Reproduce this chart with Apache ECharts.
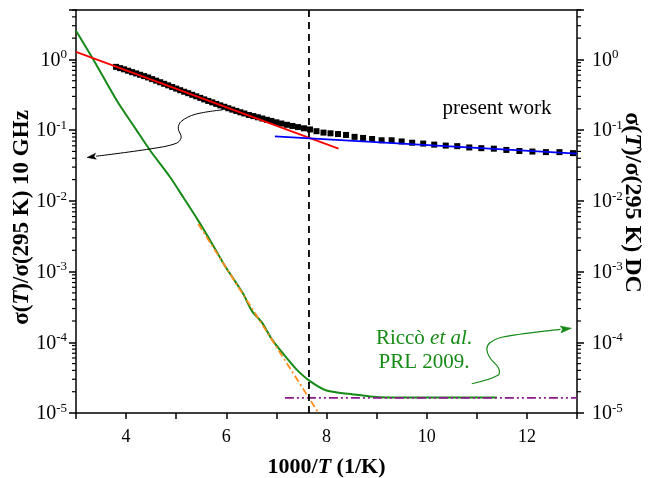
<!DOCTYPE html>
<html><head><meta charset="utf-8">
<script src="https://cdn.jsdelivr.net/npm/echarts@6.0.0/dist/echarts.min.js"></script>
<style>html,body{margin:0;padding:0;background:#fff}#c{width:654px;height:478px}</style>
</head><body><div id="c"></div>
<script>
// ---- data (x = 1000/T in 1/K, y = normalised conductivity) ----
const presentX = [3.80,3.88,3.96,4.04,4.12,4.20,4.28,4.36,4.44,4.52,4.60,4.68,4.76,4.84,4.92,5.00,
  5.08,5.16,5.24,5.32,5.40,5.48,5.56,5.64,5.72,5.80,5.88,5.96,6.04,6.12,6.20,6.28,6.36,
  6.45,6.54,6.63,6.72,6.81,6.90,7.00,7.10,7.21,7.32,7.43,7.55,7.67,
  7.80,7.94,8.08,8.23,8.39,8.56,8.73,8.91,9.10,9.30,9.50,9.71,9.93,
  10.15,10.38,10.61,10.85,11.09,11.34,11.59,11.85,12.11,12.38,12.65,12.92];
const presentY = [0.785,0.753,0.724,0.692,0.661,0.634,0.607,0.581,0.556,0.527,0.501,0.476,0.452,0.430,0.407,0.387,
  0.367,0.349,0.333,0.316,0.301,0.286,0.272,0.259,0.247,0.235,0.224,0.214,0.204,0.195,0.187,0.179,0.172,
  0.164,0.158,0.152,0.146,0.140,0.135,0.129,0.124,0.119,0.1146,0.1104,0.1062,0.1023,
  0.0966,0.0923,0.0902,0.0881,0.0855,0.0804,0.0776,0.0750,0.0719,0.0719,0.0692,0.0664,0.0646,
  0.0624,0.0605,0.0594,0.0569,0.0556,0.0547,0.0525,0.0507,0.0498,0.0489,0.0489,0.0473];

const riccoX = [3.0,3.345,3.81,4.21,4.48,4.88,5.14,5.44,5.74,5.97,6.17,6.34,6.51,6.71,6.91,7.20,7.40,7.67,8.0,8.53,9.07,10.0,11.4];
const riccoY = [2.55,1.0,0.265,0.0993,0.0516,0.0216,0.01125,0.00525,0.00232,0.00121,0.000741,0.00048,0.000278,0.000191,0.00011,6.05e-5,4.14e-5,2.82e-5,2.08e-5,1.83e-5,1.67e-5,1.65e-5,1.66e-5];

const redFitX = [3.0, 8.24];     const redFitY = [1.28, 0.0547];
const blueFitX = [6.97, 13.0];   const blueFitY = [0.0817, 0.0464];
const orangeFitX = [5.44, 7.84]; const orangeFitY = [0.00472, 1.0e-5];
const purpleFitX = [7.17, 13.0]; const purpleFitY = [1.64e-5, 1.64e-5];
const crossoverX = [7.65, 7.65]; const crossoverY = [1e-5, 5];

// annotation arrows (data coordinates)
const arrowPresent = [[5.93,0.194],[5.38,0.1675],[5.10,0.133],[5.04,0.106],[5.10,0.079],[5.0,0.065],[4.48,0.0543],[3.22,0.0411]];
const arrowRicco = [[10.90,2.59e-5],[11.43,3.44e-5],[11.43,4.37e-5],[11.26,6.05e-5],[11.20,7.96e-5],[11.26,9.86e-5],[11.46,1.16e-4],[11.86,1.30e-4],[12.40,1.45e-4],[12.89,1.58e-4]];

const xMin = 3, xMax = 13, yMin = 1e-5, yMax = 5;
const xTickLabels = [4,6,8,10,12];

const zip = (a,b) => a.map((v,i)=>[v,b[i]]);
const FONT = 'Liberation Serif';
const GREEN = '#168a16';

const chart = echarts.init(document.getElementById('c'), null, {renderer:'canvas'});

function logLabel(v){
  const l = Math.log10(v), e = Math.round(l);
  if (Math.abs(l - e) > 1e-6) return '';
  return '{b|10}{s|' + e + '}';
}
const labelRich = {
  b: {fontSize: 20, fontFamily: FONT, color: '#000', lineHeight: 22, verticalAlign: 'bottom'},
  s: {fontSize: 13, fontFamily: FONT, color: '#000', verticalAlign: 'top', lineHeight: 13}
};
function nameStyle(size, pad){
  return {fontFamily: FONT, fontSize: size, fontWeight: 'bold', color: '#000', padding: pad,
    rich: {i: {fontFamily: FONT, fontSize: size, fontWeight: 'bold', fontStyle: 'italic', color: '#000'}}};
}

const axisLine = {show: true, onZero: false, lineStyle: {color: '#000', width: 1.5}};

chart.setOption({
  animation: false,
  backgroundColor: '#fff',
  grid: {left: 76, right: 77, top: 10, bottom: 65, containLabel: false, outerBoundsMode: 'none'},
  xAxis: [{
    type: 'value', min: xMin, max: xMax, interval: 1, position: 'bottom',
    axisLine: axisLine,
    axisTick: {show: true, length: 6, inside: false, lineStyle: {color: '#000', width: 1.5}},
    splitLine: {show: false},
    axisLabel: {fontFamily: FONT, fontSize: 18, color: '#000', margin: 15,
      formatter: v => xTickLabels.includes(v) ? String(v) : ''},
    name: '1000/{i|T} (1/K)', nameLocation: 'middle', nameGap: 43, nameMoveOverlap: false,
    nameTextStyle: nameStyle(22, 0)
  }, {
    type: 'value', min: xMin, max: xMax, position: 'top',
    axisLine: axisLine, axisTick: {show: false}, axisLabel: {show: false}, splitLine: {show: false}
  }],
  yAxis: [{
    type: 'log', logBase: 10, min: yMin, max: yMax, position: 'left',
    axisLine: axisLine,
    axisTick: {show: true, length: 7, lineStyle: {color: '#000', width: 1.5}},
    splitLine: {show: false},
    axisLabel: {margin: 9, formatter: logLabel, rich: labelRich},
    name: 'σ({i|T})/σ(295 K) 10 GHz', nameLocation: 'middle', nameGap: 42, nameRotate: 90, nameMoveOverlap: false,
    nameTextStyle: nameStyle(23, [0, 12, 0, 0])
  }, {
    type: 'log', logBase: 10, min: yMin, max: yMax, position: 'right',
    axisLine: axisLine,
    axisTick: {show: true, length: 7, lineStyle: {color: '#000', width: 1.5}},
    splitLine: {show: false},
    axisLabel: {margin: 15, formatter: logLabel, rich: labelRich},
    name: 'σ({i|T})/σ(295 K) DC', nameLocation: 'middle', nameGap: 43, nameRotate: -90, nameMoveOverlap: false,
    nameTextStyle: nameStyle(24, [0, 18, 0, 0])
  }],
  series: [
    {type: 'line', data: zip(riccoX, riccoY), smooth: 0.25, showSymbol: false,
      lineStyle: {color: GREEN, width: 2}, z: 2},
    {type: 'line', data: zip(orangeFitX, orangeFitY), showSymbol: false,
      lineStyle: {color: '#ff8c1a', width: 1.8, type: [7, 3, 2, 3]}, z: 3},
    {type: 'line', data: zip(purpleFitX, purpleFitY), showSymbol: false,
      lineStyle: {color: '#8b1a8b', width: 1.8, type: [9, 3, 2, 3, 2, 3]}, z: 3},
    {type: 'scatter', data: zip(presentX, presentY), symbol: 'rect', symbolSize: 6,
      itemStyle: {color: '#000', opacity: 1}, z: 4},
    {type: 'line', data: zip(redFitX, redFitY), showSymbol: false,
      lineStyle: {color: '#ff0000', width: 1.8}, z: 5},
    {type: 'line', data: zip(blueFitX, blueFitY), showSymbol: false,
      lineStyle: {color: '#0000ff', width: 1.8}, z: 5},
    {type: 'line', data: zip(crossoverX, crossoverY), showSymbol: false,
      lineStyle: {color: '#000', width: 1.8, type: [7, 5]}, z: 6}
  ]
});

// ---- decorations: log minor ticks, arrows, texts ----
function px(p){ return chart.convertToPixel({xAxisIndex: 0, yAxisIndex: 0}, p); }
const leftX = chart.convertToPixel({xAxisIndex: 0}, xMin);
const rightX = chart.convertToPixel({xAxisIndex: 0}, xMax);
const g = [];
for (let k = -5; k <= 0; k++) {
  for (let m = 2; m <= 9; m++) {
    const v = m * Math.pow(10, k);
    if (v > yMax + 1e-9) break;
    const y = chart.convertToPixel({yAxisIndex: 0}, v);
    g.push({type: 'line', shape: {x1: leftX - 4, y1: y, x2: leftX, y2: y}, style: {stroke: '#000', lineWidth: 1.2}});
    g.push({type: 'line', shape: {x1: rightX, y1: y, x2: rightX + 4, y2: y}, style: {stroke: '#000', lineWidth: 1.2}});
  }
}
function arrow(pts, color, len, half, lw){
  const P = pts.map(px);
  const a = P[P.length - 2], b = P[P.length - 1];
  const dx = b[0] - a[0], dy = b[1] - a[1], d = Math.hypot(dx, dy);
  const ux = dx / d, uy = dy / d;
  const bx = b[0] - ux * len, by = b[1] - uy * len;
  const line = P.slice(0, -1).concat([[bx, by]]);
  g.push({type: 'polyline', shape: {points: line, smooth: 0.35}, style: {stroke: color, lineWidth: lw, fill: null}, z: 10});
  g.push({type: 'polygon', shape: {points: [[b[0], b[1]], [bx - uy * half, by + ux * half], [bx + ux * 2, by + uy * 2], [bx + uy * half, by - ux * half]]},
    style: {fill: color, stroke: color, lineWidth: 0.5}, z: 10});
}
arrow(arrowPresent, '#000', 9, 3, 1);
arrow(arrowRicco, GREEN, 11, 3.5, 1.2);

g.push({type: 'text', x: 497, y: 108, style: {text: 'present work', font: '21px "Liberation Serif"', fill: '#000', align: 'center', verticalAlign: 'middle'}, z: 10});
g.push({type: 'text', x: 424, y: 338, style: {text: 'Riccò {i|et al}.', font: '21px "Liberation Serif"', fill: GREEN, align: 'center', verticalAlign: 'middle',
  rich: {i: {fontStyle: 'italic', fontFamily: FONT, fontSize: 21, fill: GREEN}}}, z: 10});
g.push({type: 'text', x: 424, y: 362, style: {text: 'PRL 2009.', font: '21px "Liberation Serif"', fill: GREEN, align: 'center', verticalAlign: 'middle'}, z: 10});

chart.setOption({graphic: g});
</script>
</body></html>
